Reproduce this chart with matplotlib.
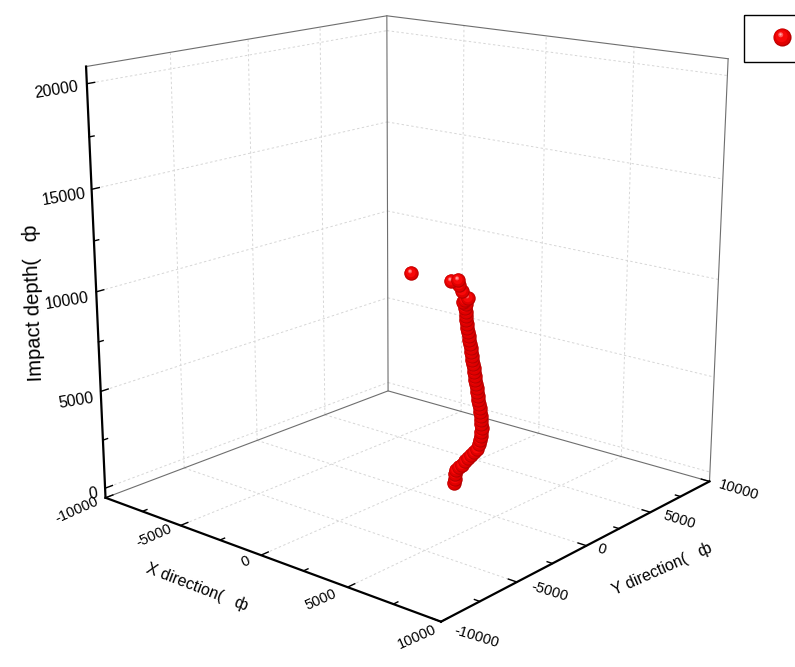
import matplotlib
matplotlib.use("Agg")
import matplotlib.pyplot as plt
from matplotlib.patches import Rectangle
from matplotlib.path import Path
from mpl_toolkits.mplot3d import proj3d

plt.rcParams['font.family'] = ['Liberation Sans', 'DejaVu Sans']

# data
x_pos = [1760,1820,1820,1870,2050,2230,2400,2570,2750,2920,3090,3210,3260,3320,3340,3370,3340,3310,3280,3250,
         3220,3180,3150,3120,3090,3060,3000,2970,2940,2880,2850,2820,2760,2730,2700,2670,2630,2600,2570,2510,
         2480,2450,2420,2390,2390,2360,2390,2330,2500,2210,2150,1970,1920,1510,-820]
y_pos = [1030,1030,1030,1030,1030,1030,1030,1030,1030,1030,1030,1030,1030,1030,1030,1030,1030,1030,1030,1030,
         1030,1030,1030,1030,1030,1030,1030,1030,1030,1030,1030,1030,1030,1030,1030,1030,1030,1030,1030,1030,
         1030,1030,1030,1030,1030,1030,1030,1030,1030,1030,1030,1030,1030,1030,1030]
z_pos = [0,230,490,710,920,1070,1330,1530,1730,1930,2130,2420,2640,2860,3070,3280,3480,3680,3880,4070,
         4270,4460,4660,4860,5050,5250,5440,5630,5830,6020,6210,6410,6590,6790,6980,7180,7370,7570,7760,7950,
         8140,8340,8530,8720,8920,9120,9320,9510,9640,9390,9920,10180,10420,10290,10240]

lim = 10000
z_lo, z_hi = -500, 20800
xy_major = [-10000, -5000, 0, 5000, 10000]
xy_minor = [-7500, -2500, 2500, 7500]
z_major = [0, 5000, 10000, 15000, 20000]
z_minor = [2500, 7500, 12500, 17500]
grid_xy = [-5000, 0, 5000]

# label offsets from the tick, in pixels
x_off = [(-29, -12), (-27, -10), (-15, -6), (-27, -12), (-24, -15)]
y_off = [(36, -15), (33, -10), (15, -4), (29, -8), (29, -9)]
z_off = [(-12, -6), (-25, -9), (-29, -9), (-28, -8), (-30, -6)]

W, H = 795, 667
S, cx, cy = 4017.33, 410.69, 282.56   # scale and centre of the projected box
size = S * 0.185
left = cx - S * 0.095
bottom = H - (cy + S * 0.095)

fig = plt.figure(figsize=(W / 100, H / 100), dpi=100)
ax = fig.add_axes([left / W, bottom / H, size / W, size / H], projection="3d")
ax.set_xlim(-lim, lim, view_margin=0)
ax.set_ylim(-lim, lim, view_margin=0)
ax.set_zlim(z_lo, z_hi, view_margin=0)
ax.view_init(elev=15.94, azim=-49.52)
ax.set_proj_type("persp", focal_length=0.496)
ax.set_box_aspect((1.0015, 0.988, 1.0))
ax.set_axis_off()
ax.computed_zorder = False

def line3(xs, ys, zs, **kw):
    ax.plot(xs, ys, zs, **kw)

grid = dict(color="#d6d6d6", lw=0.7, ls=(0, (2.5, 2.5)), zorder=1)
for v in grid_xy:
    line3([v, v], [-lim, lim], [z_lo, z_lo], **grid)
    line3([-lim, lim], [v, v], [z_lo, z_lo], **grid)
    line3([v, v], [lim, lim], [z_lo, z_hi], **grid)
    line3([-lim, -lim], [v, v], [z_lo, z_hi], **grid)
for v in z_major:
    line3([-lim, lim], [lim, lim], [v, v], **grid)
    line3([-lim, -lim], [-lim, lim], [v, v], **grid)

frame = dict(color="#6e6e6e", lw=0.8, zorder=2)
line3([-lim, -lim, lim], [-lim, lim, lim], [z_lo, z_lo, z_lo], **frame)
line3([-lim, -lim, lim], [-lim, lim, lim], [z_hi, z_hi, z_hi], **frame)
line3([-lim, -lim], [lim, lim], [z_lo, z_hi], **frame)
line3([lim, lim], [lim, lim], [z_lo, z_hi], **frame)

axis = dict(color="black", lw=1.6, zorder=3, solid_capstyle="projecting")
line3([-lim, lim], [-lim, -lim], [z_lo, z_lo], **axis)
line3([lim, lim], [-lim, lim], [z_lo, z_lo], **axis)
line3([-lim, -lim], [-lim, -lim], [z_lo, z_hi], **axis)

tick = dict(color="black", lw=1.0, zorder=3)
for vals, n in ((xy_major, 450), (xy_minor, 280)):
    for v in vals:
        line3([v, v], [-lim, -lim + n], [z_lo, z_lo], **tick)
        line3([lim, lim - n], [v, v], [z_lo, z_lo], **tick)
for vals, n in ((z_major, 450), (z_minor, 280)):
    for v in vals:
        line3([-lim, -lim], [-lim, -lim + n], [v, v], **tick)

# sphere drawn as stacked filled circles, the far corners keep the marker scale
def disc(dx, dy, r):
    return Path.make_compound_path(Path.circle((dx, dy), r),
                                   Path([(-1, -1), (1, 1)], [Path.MOVETO, Path.LINETO]))

ball = [(disc(0, 0, 1.0), "#b80000"),
        (disc(-0.05, 0.06, 0.9), "#e00000"),
        (disc(-0.1, 0.14, 0.66), "#f80808"),
        (disc(-0.2, 0.3, 0.28), "#ff5a5a"),
        (disc(-0.22, 0.34, 0.12), "#ffb0b0")]

z = 10
for xv, yv, zv in sorted(zip(x_pos, y_pos, z_pos), key=lambda t: t[2]):
    for path, col in ball:
        ax.scatter([xv], [yv], [zv], s=108, marker=path, color=col, linewidths=0,
                   depthshade=False, zorder=z)
        z += 1

# tick labels sit at a pixel offset from the projected tick
M = ax.get_proj()
def label(txt, xv, yv, zv, off, rot, fs):
    xp, yp, _ = proj3d.proj_transform(xv, yv, zv, M)
    ax.annotate(txt, (xp, yp), xytext=off, textcoords="offset pixels", ha="center", va="center",
                rotation=rot, rotation_mode="anchor", fontsize=fs, color="black", zorder=z + 1)

for v, off in zip(xy_major, x_off):
    label(str(v), v, -lim, z_lo, off, 24, 10.5)
for v, off in zip(xy_major, y_off):
    label(str(v), lim, v, z_lo, off, -17, 10.5)
for v, off in zip(z_major, z_off):
    label(str(v), -lim, -lim, v, off, 9, 11.5)

fig.text(197 / W, 1 - 587 / H, "X direction(   ф", fontsize=11.5, rotation=-21, ha="center", va="center",
         rotation_mode="anchor")
fig.text(662 / W, 1 - 569 / H, "Y direction(   ф", fontsize=11.5, rotation=24, ha="center", va="center",
         rotation_mode="anchor")
fig.text(34 / W, 1 - 303 / H, "Impact depth(   ф", fontsize=14.5, rotation=92, ha="center", va="center",
         rotation_mode="anchor")

# legend box runs off the right edge
over = fig.add_axes([0, 0, 1, 1], facecolor="none")
over.set_xlim(0, W)
over.set_ylim(H, 0)
over.axis("off")
over.add_patch(Rectangle((743.5, 14.5), 80, 47.5, fill=False, ec="black", lw=1.0))
for path, col in ball:
    over.scatter([782], [37], s=170, marker=path, color=col, linewidths=0)
over.set_xlim(0, W)
over.set_ylim(H, 0)

fig.savefig("out.png", dpi=100)
